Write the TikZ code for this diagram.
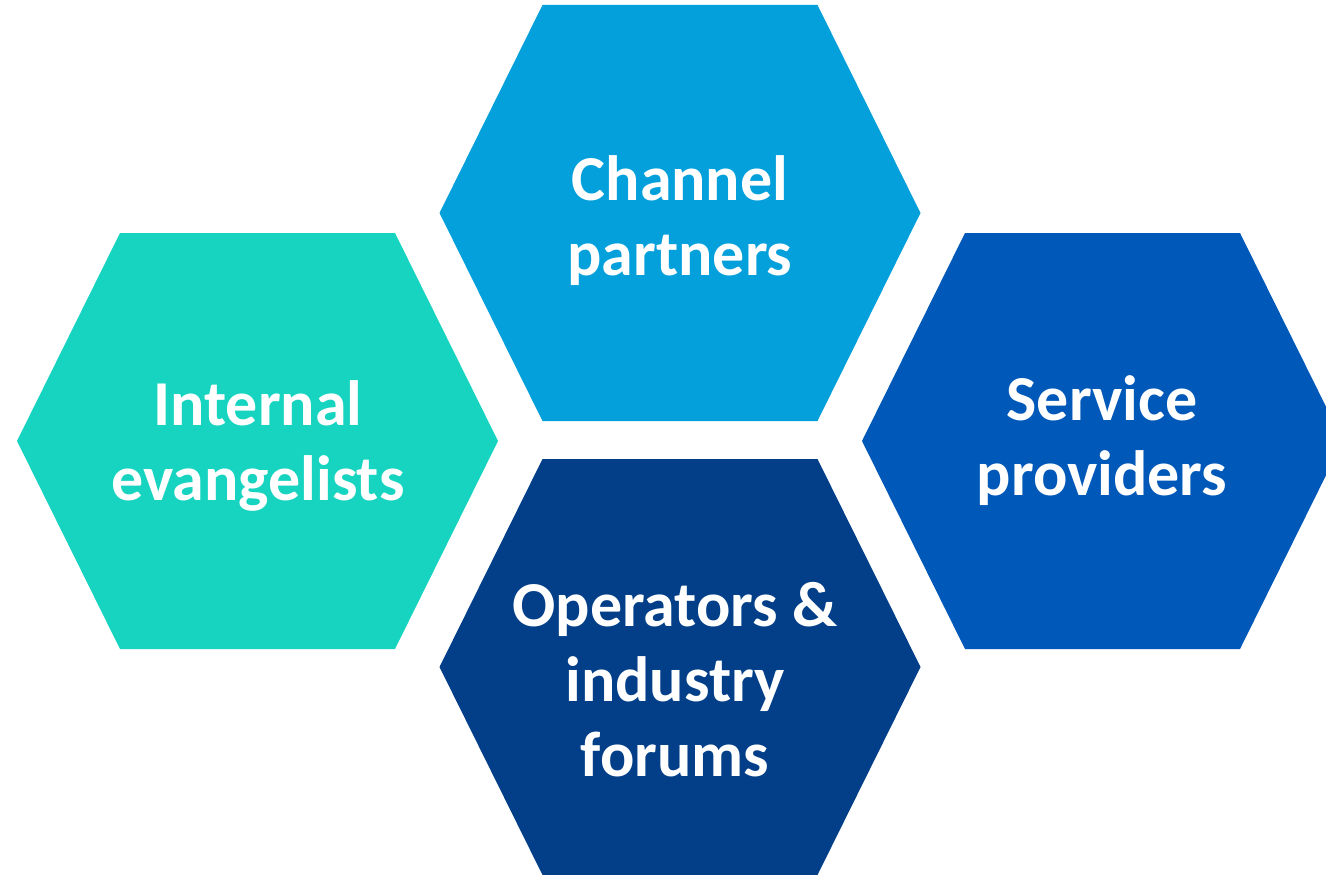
\documentclass[tikz,border=0pt]{standalone}
\usepackage{fontspec}
\setmainfont{Carlito}

\definecolor{hexteal}{HTML}{17D4C0}
\definecolor{hexsky}{HTML}{03A0DC}
\definecolor{hexblue}{HTML}{0058B8}
\definecolor{hexnavy}{HTML}{023F88}

\begin{document}
\begin{tikzpicture}[x=1pt,y=-1pt,
	hexlabel/.style={text=white,align=center,inner sep=0pt,
		font=\fontsize{64}{75}\selectfont\bfseries}]
	
	\def\hw{240.5}     
	\def\ew{137.5}     
	\def\hh{208}       
	
	\newcommand{\hexcell}[3]{%
		\fill[#3] ({#1-\hw},#2) -- ({#1-\ew},{#2-\hh}) -- ({#1+\ew},{#2-\hh})
		-- ({#1+\hw},#2) -- ({#1+\ew},{#2+\hh}) -- ({#1-\ew},{#2+\hh}) -- cycle;}
	
	\useasboundingbox (0,0) rectangle (1326,875);
	\clip (0,0) rectangle (1326,875);
	
	\hexcell{257.5}{441}{hexteal}
	\hexcell{680}{213}{hexsky}
	\hexcell{1102.5}{441}{hexblue}
	\hexcell{680}{667}{hexnavy}
	
	\node[hexlabel] (internal) at (258,446) {Internal\\evangelists};
	\node[hexlabel] (channel) at (680,221) {Channel\\partners};
	\node[hexlabel] (service) at (1102,441) {Service\\providers};
	\node[hexlabel] (operators) at (675,680) {Operators \&\\industry\\forums};
\end{tikzpicture}
\end{document}
